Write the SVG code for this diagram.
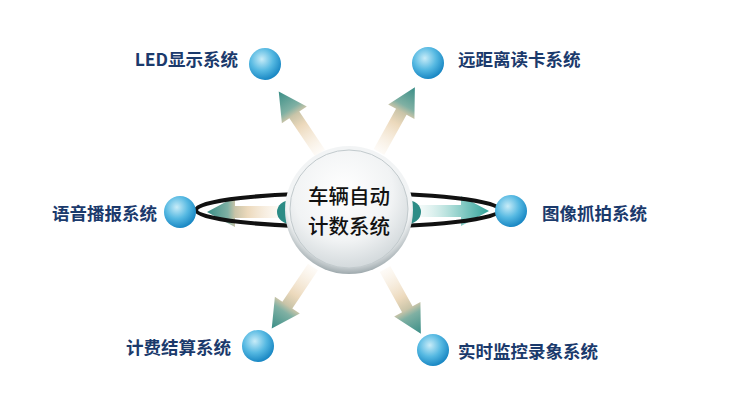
<svg xmlns="http://www.w3.org/2000/svg" width="729" height="406" viewBox="0 0 729 406">
<defs>
<linearGradient id="gArrow" x1="0" y1="0" x2="1" y2="0">
<stop offset="0" stop-color="#f7ead8" stop-opacity="0.2"/>
<stop offset="0.45" stop-color="#ecd9bc"/>
<stop offset="0.62" stop-color="#c9c4a8"/>
<stop offset="0.72" stop-color="#7fb0a3"/>
<stop offset="1" stop-color="#3a8e87"/>
</linearGradient>
<linearGradient id="gArrowT" x1="0" y1="0" x2="1" y2="0">
<stop offset="0" stop-color="#e6f4f2" stop-opacity="0.3"/>
<stop offset="0.5" stop-color="#a8dbd6"/>
<stop offset="1" stop-color="#32a39a"/>
</linearGradient>
<radialGradient id="gBall" cx="0.4" cy="0.35" r="0.65">
<stop offset="0" stop-color="#c8ecf8"/>
<stop offset="0.55" stop-color="#56b9e2"/>
<stop offset="1" stop-color="#1a88c4"/>
</radialGradient>
<radialGradient id="gRim" cx="0.5" cy="0.4" r="0.6">
<stop offset="0.82" stop-color="#f2f4f5"/>
<stop offset="1" stop-color="#9ea9ad"/>
</radialGradient>
<radialGradient id="gFace" cx="0.45" cy="0.35" r="0.7">
<stop offset="0" stop-color="#ffffff"/>
<stop offset="0.6" stop-color="#f1f3f4"/>
<stop offset="1" stop-color="#cdd4d7"/>
</radialGradient>
<polygon id="arr" points="0,-6 46,-6 46,-15 74,0 46,15 46,6 0,6"/>
</defs>
<style>
.lbl{font-family:"Noto Sans CJK SC","Noto Sans",sans-serif;font-size:17.5px;font-weight:bold;fill:#1b3a6c;dominant-baseline:central}
.ctr{font-family:"Noto Sans CJK SC","Noto Sans",sans-serif;font-size:20.5px;font-weight:500;fill:#111;text-anchor:middle;dominant-baseline:central}
.ball{fill:url(#gBall)}
</style>
<rect width="729" height="406" fill="#ffffff"/>
<g id="connectors">
<use href="#arr" fill="url(#gArrow)" transform="translate(320,153) rotate(-123.9)"/>
<use href="#arr" fill="url(#gArrow)" transform="translate(379,152) rotate(-61)"/>
<use href="#arr" fill="url(#gArrow)" transform="translate(281,212) rotate(180)"/>
<use href="#arr" fill="url(#gArrowT)" transform="translate(415,211)"/>
<use href="#arr" fill="url(#gArrow)" transform="translate(313,267) rotate(123.9)"/>
<use href="#arr" fill="url(#gArrow)" transform="translate(385,269) rotate(61)"/>
<ellipse cx="348" cy="210" rx="152" ry="17" fill="none" stroke="#111" stroke-width="4"/>
<ellipse cx="291" cy="212" rx="14" ry="12" fill="#2c8c86"/>
<ellipse cx="407" cy="212" rx="14" ry="12" fill="#2c8c86"/>
</g>
<g id="center">
<circle cx="349" cy="210" r="64" fill="url(#gRim)"/>
<circle cx="349" cy="209" r="59" fill="url(#gFace)" stroke="#c2cacd" stroke-width="1"/>
<text class="ctr" x="349" y="195">车辆自动</text>
<text class="ctr" x="349" y="225">计数系统</text>
</g>
<g id="led"><circle class="ball" cx="265" cy="64" r="16"/><text class="lbl" x="238" y="58" text-anchor="end">LED显示系统</text></g>
<g id="rfid"><circle class="ball" cx="428" cy="63" r="16"/><text class="lbl" x="458" y="58">远距离读卡系统</text></g>
<g id="voice"><circle class="ball" cx="180" cy="212" r="16"/><text class="lbl" x="157" y="212" text-anchor="end">语音播报系统</text></g>
<g id="capture"><circle class="ball" cx="511" cy="211" r="16"/><text class="lbl" x="542" y="212">图像抓拍系统</text></g>
<g id="billing"><circle class="ball" cx="258" cy="346" r="16"/><text class="lbl" x="231" y="346" text-anchor="end">计费结算系统</text></g>
<g id="monitor"><circle class="ball" cx="433" cy="350" r="16"/><text class="lbl" x="458" y="350">实时监控录象系统</text></g>
</svg>
